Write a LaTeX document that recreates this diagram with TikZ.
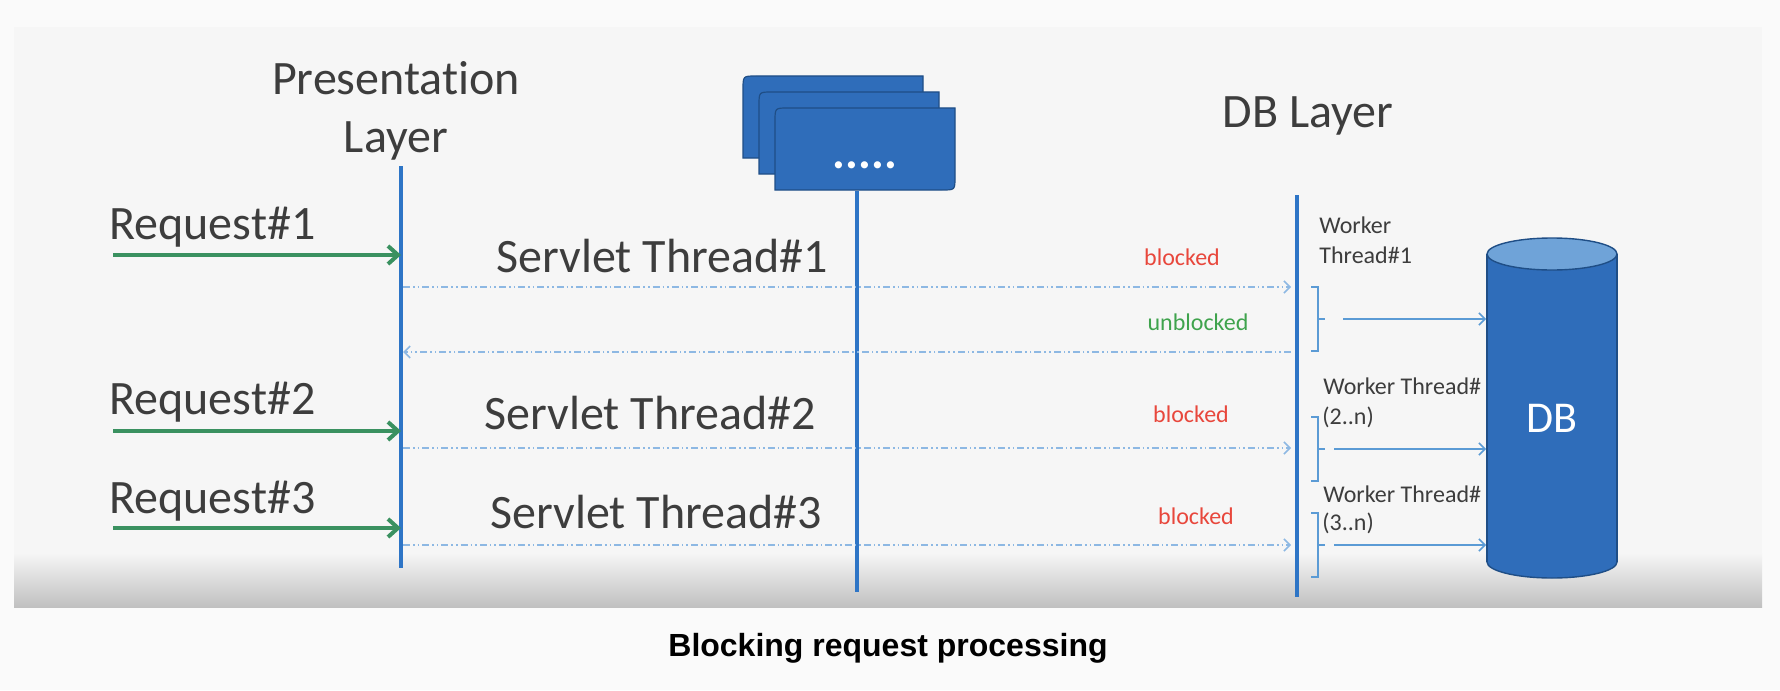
\documentclass[tikz,border=0pt]{standalone}
\usepackage{fontspec}
\setmainfont[Ligatures=NoCommon]{Carlito}
\newfontfamily\capfont{Liberation Sans}
\usetikzlibrary{arrows.meta,calc}
\definecolor{outerbg}{HTML}{FAFAFA}
\definecolor{panelbg}{HTML}{F6F6F6}
\definecolor{panelshade}{HTML}{C0C0C0}
\definecolor{lifeblue}{HTML}{2E75C6}
\definecolor{dashblue}{HTML}{8DB8E3}
\definecolor{armblue}{HTML}{5B9BD5}
\definecolor{reqgreen}{HTML}{3A9160}
\definecolor{blkred}{HTML}{E8473C}
\definecolor{unbgreen}{HTML}{3FA34D}
\definecolor{txtgray}{HTML}{3D3D3D}
\definecolor{boxblue}{HTML}{2F6DBA}
\definecolor{boxedge}{HTML}{1F4E86}
\definecolor{dbtop}{HTML}{6FA3D8}
\begin{document}
\begin{tikzpicture}
	% blocking servlet threads waiting on the worker threads of the db layer
	[x=0.5pt,y=-0.5pt,
	 big/.style={font=\fontsize{24}{28}\selectfont,text=txtgray,anchor=base,inner sep=0pt},
	 small/.style={font=\fontsize{12}{14}\selectfont,anchor=base,inner sep=0pt},
	 life/.style={lifeblue,line width=1.7pt},
	 req/.style={reqgreen,line width=2pt,-{Straight Barb[length=5pt,width=9pt]}},
	 call/.style={dashblue,line width=0.8pt,dash pattern=on 3.5pt off 1.5pt on 0.8pt off 1.5pt on 0.8pt off 1.5pt,-{Straight Barb[length=3pt,width=6pt]}},
	 brk/.style={armblue,line width=0.6pt},
	 arm/.style={armblue,line width=0.8pt,-{Straight Barb[length=3pt,width=6pt]}},
	 tbox/.style={fill=boxblue,draw=boxedge,line width=0.6pt},
	 dbbody/.style={fill=boxblue,draw=boxedge,line width=0.7pt}]

	\useasboundingbox (0,0) rectangle (1780,690);
	\fill[outerbg] (0,0) rectangle (1780,690);
	\fill[panelbg] (14,27) rectangle (1762,554);
	\shade[top color=panelbg,bottom color=panelshade] (14,553) rectangle (1762,607);

	% headers and lifelines
	\node[big] (pres) at (396,95) {Presentation};
	\node[big] (lay) at (396,152) {Layer};
	\node[big] (dbl) at (1308,127) {DB Layer};

	\foreach \o in {0,16,32}
		\filldraw[tbox] (743+\o,158+\o) -- (743+\o,89+\o) .. controls (743+\o,76+\o) .. (756+\o,76+\o)
			-- (923+\o,76+\o) -- (923+\o,145+\o) .. controls (923+\o,158+\o) .. (910+\o,158+\o) -- cycle;
	\node[font=\fontsize{24}{28}\selectfont\bfseries,text=white,anchor=base,inner sep=0pt] (dots) at (865,168) {.....};

	\coordinate (pl) at (401,166);
	\coordinate (ml) at (857,191);
	\coordinate (dl) at (1297,195);
	\draw[life] (pl) -- ++(0,402);
	\draw[life] (ml) -- ++(0,401);
	\draw[life] (dl) -- ++(0,402);

	% requests
	\node[big,anchor=base west] (req1) at (109,239) {Request\#1};
	\node[big,anchor=base west] (req2) at (109,414) {Request\#2};
	\node[big,anchor=base west] (req3) at (109,513) {Request\#3};
	\coordinate (r1) at (113,255);
	\coordinate (r2) at (113,431);
	\coordinate (r3) at (113,528);
	\draw[req] (r1) -- (r1 -| pl);
	\draw[req] (r2) -- (r2 -| pl);
	\draw[req] (r3) -- (r3 -| pl);

	% servlet threads
	\node[big] (st1) at (662,272) {Servlet Thread\#1};
	\node[big] (st2) at (650,429) {Servlet Thread\#2};
	\node[big] (st3) at (656,528) {Servlet Thread\#3};
	\coordinate (c1) at (403,287);
	\coordinate (c2) at (403,352);
	\coordinate (c3) at (403,448);
	\coordinate (c4) at (403,545);
	\draw[call,shorten >=3pt] (c1) -- (c1 -| dl);
	\draw[call,shorten <=3pt] (c2 -| dl) -- (c2);
	\draw[call,shorten >=3pt] (c3) -- (c3 -| dl);
	\draw[call,shorten >=3pt] (c4) -- (c4 -| dl);

	\node[small,text=blkred] (bl1) at (1182,265) {blocked};
	\node[small,text=unbgreen] (ubl) at (1198,330) {unblocked};
	\node[small,text=blkred] (bl2) at (1191,422) {blocked};
	\node[small,text=blkred] (bl3) at (1196,524) {blocked};

	% worker threads
	\node[small,text=txtgray,anchor=base west] (w1a) at (1319,233) {Worker};
	\node[small,text=txtgray,anchor=base west] (w1b) at (1319,263) {Thread\#1};
	\node[small,text=txtgray,anchor=base west] (w2a) at (1323,394) {Worker Thread\#};
	\node[small,text=txtgray,anchor=base west] (w2b) at (1322,424) {(2..n)};
	\node[small,text=txtgray,anchor=base west] (w3a) at (1323,502) {Worker Thread\#};
	\node[small,text=txtgray,anchor=base west] (w3b) at (1322,530) {(3..n)};

	\coordinate (b1) at (1318,319);
	\coordinate (b2) at (1318,449);
	\coordinate (b3) at (1318,545);
	\foreach \b in {b1,b2,b3}{
		\draw[brk] ($(\b)+(-7,-32)$) -- ++(7,0) -- ++(0,64) -- ++(-7,0);
		\draw[brk] (\b) -- ++(7,0);
	}

	% db
	\filldraw[dbbody] (1552,562) ellipse (65 and 16);
	\fill[boxblue] (1487,254) rectangle (1617,562);
	\draw[boxedge,line width=0.7pt] (1487,254) -- (1487,562) (1617,254) -- (1617,562);
	\filldraw[dbbody,fill=dbtop] (1552,254) ellipse (65 and 16);
	\node[font=\fontsize{22}{26}\selectfont,text=white,anchor=base,inner sep=0pt] (db) at (1552,432) {DB};
	\coordinate (dbw) at (1486,400);

	\draw[arm] ($(b1)+(25,0)$) -- (b1 -| dbw);
	\draw[arm] ($(b2)+(16,0)$) -- (b2 -| dbw);
	\draw[arm] ($(b3)+(16,0)$) -- (b3 -| dbw);

	\node[font=\capfont\bfseries\fontsize{16}{19}\selectfont,anchor=base,inner sep=0pt] (cap) at (888,656) {Blocking request processing};
\end{tikzpicture}
\end{document}
